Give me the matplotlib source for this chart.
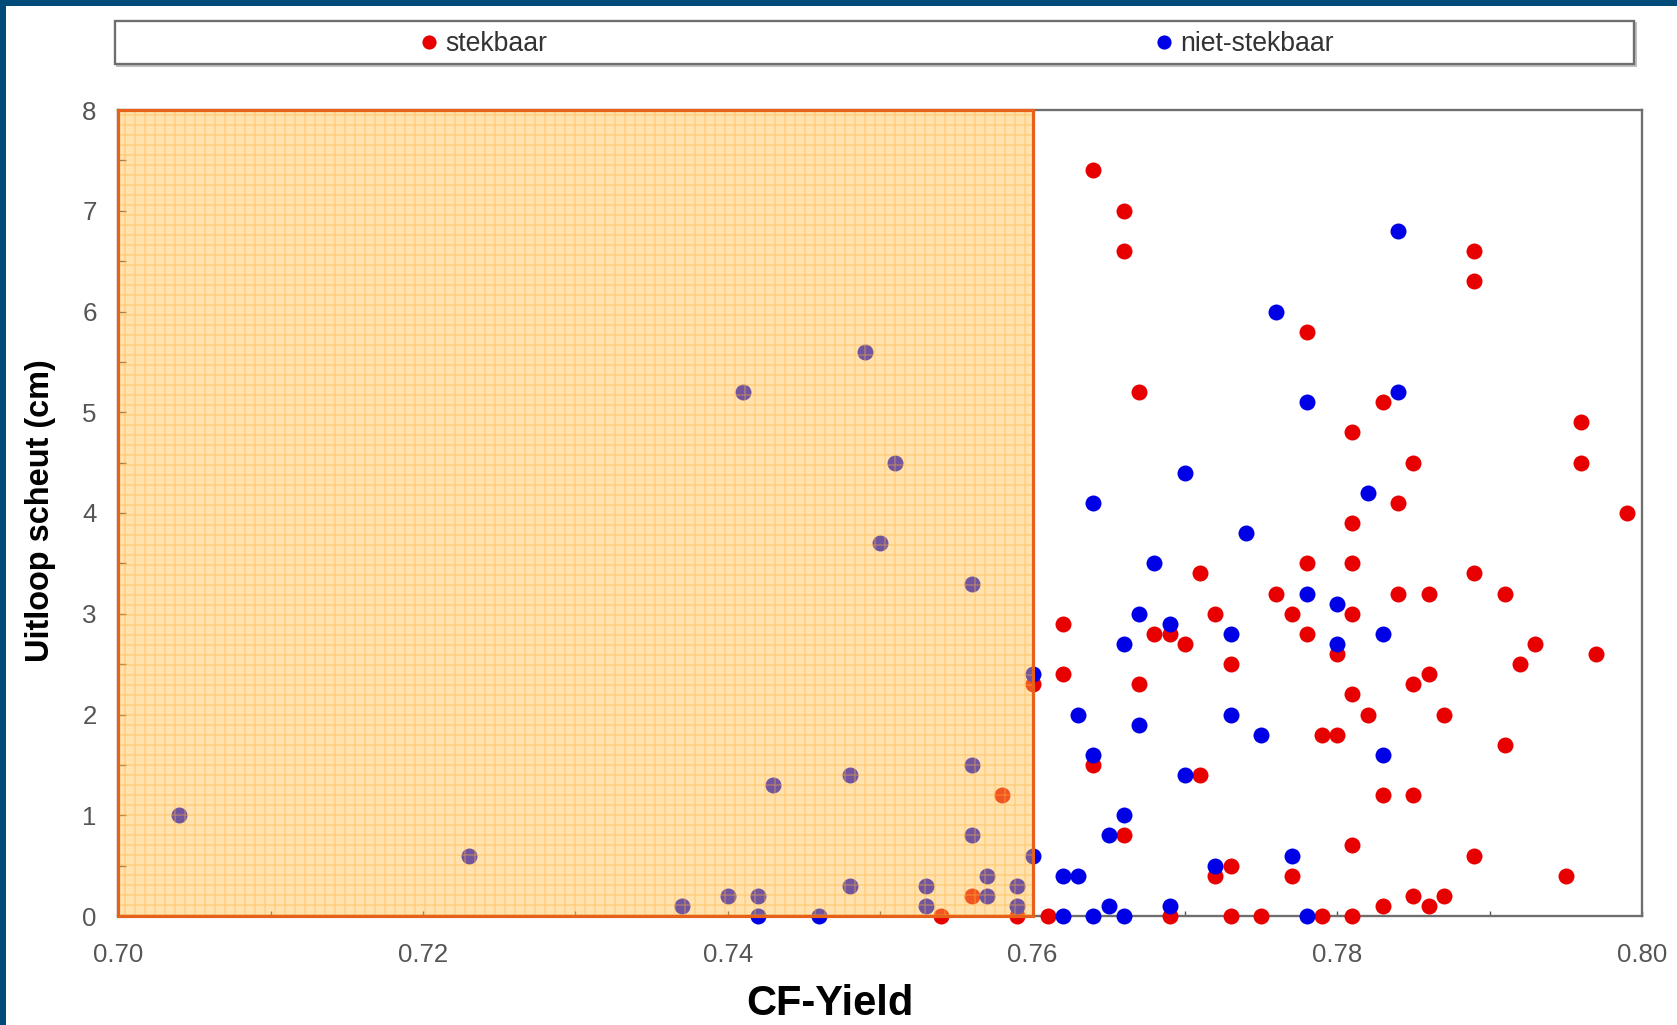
import matplotlib
matplotlib.use("Agg")
import matplotlib.pyplot as plt
from matplotlib.patches import Rectangle
from matplotlib.lines import Line2D
from matplotlib.ticker import MultipleLocator, FormatStrFormatter

plt.rcParams['font.family'] = ['Liberation Sans', 'DejaVu Sans']
plt.rcParams['hatch.linewidth'] = 0.8

# ---------------- data ----------------
stek_x = [0.754, 0.756, 0.758, 0.759, 0.760, 0.761, 0.762, 0.762, 0.764, 0.764,
          0.766, 0.766, 0.766, 0.767, 0.767, 0.768, 0.769, 0.769, 0.770, 0.771,
          0.771, 0.772, 0.772, 0.773, 0.773, 0.773, 0.775, 0.776, 0.777, 0.777,
          0.778, 0.778, 0.778, 0.779, 0.779, 0.780, 0.780, 0.781, 0.781, 0.781,
          0.781, 0.781, 0.781, 0.781, 0.782, 0.783, 0.783, 0.783, 0.784, 0.784,
          0.785, 0.785, 0.785, 0.785, 0.786, 0.786, 0.786, 0.787, 0.787, 0.789,
          0.789, 0.789, 0.789, 0.791, 0.791, 0.792, 0.793, 0.795, 0.796, 0.796,
          0.797, 0.799]
stek_y = [0.0, 0.2, 1.2, 0.0, 2.3, 0.0, 2.9, 2.4, 7.4, 1.5,
          7.0, 6.6, 0.8, 5.2, 2.3, 2.8, 2.8, 0.0, 2.7, 3.4,
          1.4, 3.0, 0.4, 2.5, 0.5, 0.0, 0.0, 3.2, 3.0, 0.4,
          5.8, 3.5, 2.8, 1.8, 0.0, 2.6, 1.8, 4.8, 3.9, 3.5,
          3.0, 2.2, 0.7, 0.0, 2.0, 5.1, 1.2, 0.1, 4.1, 3.2,
          4.5, 2.3, 1.2, 0.2, 3.2, 2.4, 0.1, 2.0, 0.2, 6.6,
          6.3, 3.4, 0.6, 3.2, 1.7, 2.5, 2.7, 0.4, 4.9, 4.5,
          2.6, 4.0]

niet_x = [0.704, 0.723, 0.737, 0.740, 0.741, 0.742, 0.742, 0.743, 0.746, 0.748,
          0.748, 0.749, 0.750, 0.751, 0.753, 0.753, 0.756, 0.756, 0.756, 0.757,
          0.757, 0.759, 0.759, 0.760, 0.760, 0.762, 0.762, 0.763, 0.763, 0.764,
          0.764, 0.764, 0.765, 0.765, 0.766, 0.766, 0.766, 0.767, 0.767, 0.768,
          0.769, 0.769, 0.770, 0.770, 0.772, 0.773, 0.773, 0.774, 0.775, 0.776,
          0.777, 0.778, 0.778, 0.778, 0.780, 0.780, 0.782, 0.783, 0.783, 0.784,
          0.784]
niet_y = [1.0, 0.6, 0.1, 0.2, 5.2, 0.2, 0.0, 1.3, 0.0, 1.4,
          0.3, 5.6, 3.7, 4.5, 0.3, 0.1, 3.3, 1.5, 0.8, 0.4,
          0.2, 0.3, 0.1, 2.4, 0.6, 0.4, 0.0, 2.0, 0.4, 4.1,
          1.6, 0.0, 0.8, 0.1, 2.7, 1.0, 0.0, 3.0, 1.9, 3.5,
          2.9, 0.1, 4.4, 1.4, 0.5, 2.8, 2.0, 3.8, 1.8, 6.0,
          0.6, 5.1, 3.2, 0.0, 3.1, 2.7, 4.2, 2.8, 1.6, 6.8,
          5.2]

labels = ['stekbaar', 'niet-stekbaar']
shade_x = (0.70, 0.76)     # CF-Yield range of shaded region
shade_y = (0.0, 8.0)
x_range = (0.70, 0.80)
y_range = (0, 8)

RED = '#e80000'
BLUE = '#0000e6'

# ---------------- figure ----------------
W, H = 1677, 1025
DPI = 120
fig = plt.figure(figsize=(W / DPI, H / DPI), dpi=DPI, facecolor='white')

# dark blue frame bars (top and left)
fig.add_artist(Rectangle((0, 1 - 6 / H), 1, 6 / H, transform=fig.transFigure,
                         facecolor='#004b7a', edgecolor='none', zorder=0))
fig.add_artist(Rectangle((0, 0), 6 / W, 1, transform=fig.transFigure,
                         facecolor='#004b7a', edgecolor='none', zorder=0))

left, right, top, bottom = 118.3, 1642, 110, 916
ax = fig.add_axes([left / W, 1 - bottom / H, (right - left) / W, (bottom - top) / H])
ax.set_xlim(*x_range)
ax.set_ylim(*y_range)
ax.set_facecolor('white')

for sp in ax.spines.values():
    sp.set_color('#6e6e6e')
    sp.set_linewidth(1.4)

ax.xaxis.set_major_locator(MultipleLocator(0.02))
ax.xaxis.set_minor_locator(MultipleLocator(0.01))
ax.xaxis.set_major_formatter(FormatStrFormatter('%.2f'))
ax.yaxis.set_major_locator(MultipleLocator(1))
ax.yaxis.set_minor_locator(MultipleLocator(0.5))

ax.tick_params(axis='both', which='both', direction='in', color='#505050',
               labelcolor='#555555', labelsize=15.5, width=0.8)
ax.tick_params(axis='x', which='both', length=3, pad=16)
ax.tick_params(axis='y', which='both', length=4.5, pad=13)
ax.tick_params(top=False, right=False, which='both')

# points
ax.scatter(stek_x, stek_y, s=92, c=RED, linewidths=0, zorder=3, clip_on=False)
ax.scatter(niet_x, niet_y, s=92, c=BLUE, linewidths=0, zorder=3.1, clip_on=False)

# shaded region overlay (on top of points)
sx0, sx1 = shade_x
sy0, sy1 = shade_y
ax.add_patch(Rectangle((sx0, sy0), sx1 - sx0, sy1 - sy0, facecolor='#ffbf4a',
                       alpha=0.45, edgecolor='none', zorder=4))
ax.add_patch(Rectangle((sx0, sy0), sx1 - sx0, sy1 - sy0, facecolor='none',
                       edgecolor=(1.0, 0.70, 0.22, 0.45), hatch='++', linewidth=0,
                       zorder=4.5))
ax.add_patch(Rectangle((sx0, sy0), sx1 - sx0, sy1 - sy0, fill=False,
                       edgecolor='#e8611a', linewidth=1.9, zorder=6, clip_on=False))

# axis titles
fig.text(830 / W, 1 - 1015 / H, 'CF-Yield', ha='center', va='baseline',
         fontsize=25, fontweight='bold', color='black')
fig.text(41 / W, 1 - 662 / H, 'Uitloop scheut (cm)', rotation=90, ha='center',
         va='bottom', fontsize=19.5, fontweight='bold', color='black')

# legend frame
lx0, lx1, ly0, ly1 = 115.5, 1634, 21, 64
fig.add_artist(Rectangle((lx0 / W + 1.5 / W, 1 - ly1 / H - 1.5 / H), (lx1 - lx0) / W,
                         (ly1 - ly0) / H, transform=fig.transFigure, fill=False,
                         edgecolor='#c0c0c0', linewidth=1.2, zorder=1))
fig.add_artist(Rectangle((lx0 / W, 1 - ly1 / H), (lx1 - lx0) / W, (ly1 - ly0) / H,
                         transform=fig.transFigure, facecolor='white',
                         edgecolor='#6e6e6e', linewidth=1.4, zorder=2))

h1 = Line2D([], [], marker='o', linestyle='none', markersize=7.5,
            markerfacecolor=RED, markeredgecolor=RED)
h2 = Line2D([], [], marker='o', linestyle='none', markersize=7.5,
            markerfacecolor=BLUE, markeredgecolor=BLUE)
common = dict(loc='center', frameon=False, fontsize=16, handlelength=0.6,
              handletextpad=0.3, borderpad=0, borderaxespad=0, labelcolor='#333333')
leg1 = fig.legend([h1], [labels[0]], bbox_to_anchor=(484 / W, 1 - 44 / H), **common)
leg2 = fig.legend([h2], [labels[1]], bbox_to_anchor=(1245 / W, 1 - 44 / H), **common)
leg1.set_zorder(3)
leg2.set_zorder(3)

fig.savefig('out.png', dpi=DPI, facecolor='white')
